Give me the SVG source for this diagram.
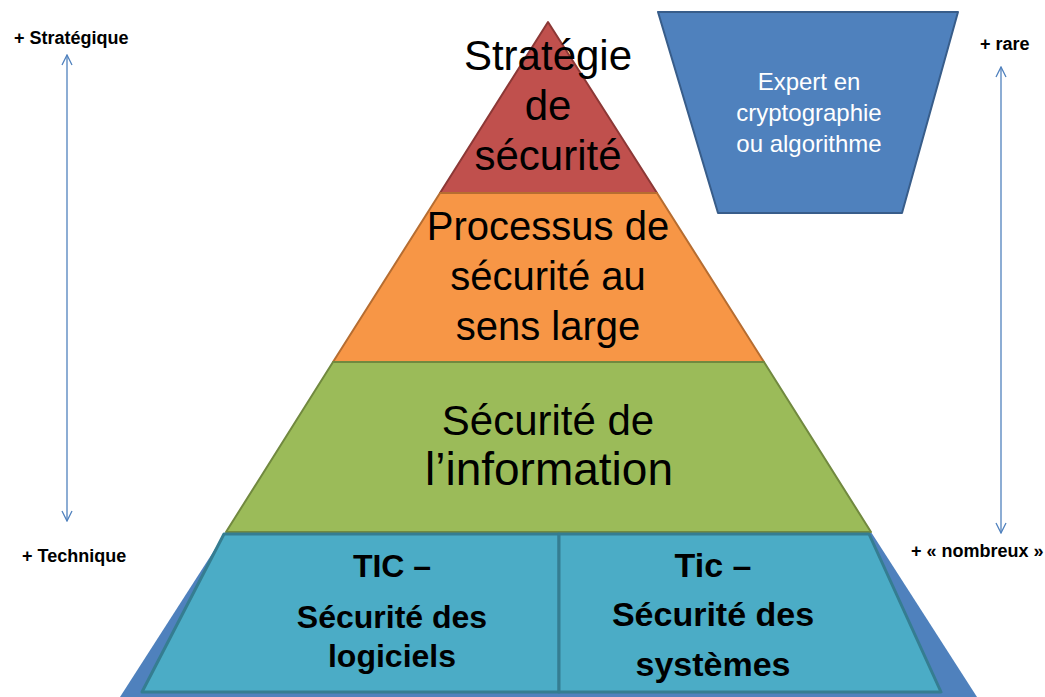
<svg xmlns="http://www.w3.org/2000/svg" width="1045" height="697" viewBox="0 0 1045 697">
<style>
  .big { font-family: "Liberation Sans", Arial, sans-serif; fill: #000; text-anchor: middle; }
  .b42 { font-size: 42px; }
  .b40 { font-size: 40px; }
  .b46 { font-size: 46px; }
  .bold { font-family: "Liberation Sans", Arial, sans-serif; font-weight: bold; fill: #000; text-anchor: middle; }
  .side { font-family: "Liberation Sans", Arial, sans-serif; font-weight: bold; font-size: 18px; fill: #000; }
  .wt { font-family: "Liberation Sans", Arial, sans-serif; font-size: 24px; fill: #fff; text-anchor: middle; }
  .conn { stroke: #4F81BD; stroke-width: 1.3; fill: none; }
</style>
<defs>
  <marker id="open" viewBox="0 0 12 12" refX="11" refY="6" markerWidth="12" markerHeight="12" markerUnits="userSpaceOnUse" orient="auto-start-reverse">
    <path d="M1,1 L11,6 L1,11" fill="none" stroke="#4F81BD" stroke-width="1.3"/>
  </marker>
</defs>
<rect width="1045" height="697" fill="#fff"/>

<g id="base">
  <polygon points="226,532 871,532 977,697 120,697" fill="#4F81BD"/>
</g>

<g id="strategie">
  <polygon points="548,22 657,193 440,193" fill="#C0504D" stroke="#8C3836" stroke-width="2" stroke-linejoin="round"/>
  <text class="big b42" x="548" y="70">Stratégie</text>
  <text class="big b42" x="548" y="120">de</text>
  <text class="big b42" x="548" y="170">sécurité</text>
</g>

<g id="processus">
  <polygon points="440,193 657,193 764,362 333,362" fill="#F79646" stroke="#B66D31" stroke-width="2" stroke-linejoin="round"/>
  <text class="big b40" x="548" y="240">Processus de</text>
  <text class="big b40" x="548" y="290">sécurité au</text>
  <text class="big b40" x="548" y="340">sens large</text>
</g>

<g id="information">
  <polygon points="333,362 764,362 871,532 226,532" fill="#9BBB59" stroke="#71893F" stroke-width="2" stroke-linejoin="round"/>
  <text class="big b42" x="548" y="435">Sécurité de</text>
  <text class="big b46" x="549" y="485">l’information</text>
</g>

<g id="tic-logiciels">
  <polygon points="224,534 559,534 559,692 142,692" fill="#4BACC6" stroke="#357D91" stroke-width="3" stroke-linejoin="round"/>
  <text class="bold" font-size="32" x="392" y="577">TIC –</text>
  <text class="bold" font-size="32" x="392" y="628">Sécurité des</text>
  <text class="bold" font-size="32" x="392" y="667">logiciels</text>
</g>

<g id="tic-systemes">
  <polygon points="559,534 869,534 941,692 559,692" fill="#4BACC6" stroke="#357D91" stroke-width="3" stroke-linejoin="round"/>
  <text class="bold" font-size="34" x="713" y="577">Tic –</text>
  <text class="bold" font-size="34" x="713" y="626">Sécurité des</text>
  <text class="bold" font-size="34" x="713" y="676">systèmes</text>
</g>

<g id="expert">
  <polygon points="658,12 958,12 902,213 718,213" fill="#4F81BD" stroke="#385D8A" stroke-width="2" stroke-linejoin="round"/>
  <text class="wt" x="809" y="90">Expert en</text>
  <text class="wt" x="809" y="121">cryptographie</text>
  <text class="wt" x="809" y="152">ou algorithme</text>
</g>

<g id="labels">
  <text class="side" x="14" y="44">+ Stratégique</text>
  <text class="side" x="22" y="562">+ Technique</text>
  <text class="side" x="980" y="50">+ rare</text>
  <text class="side" x="911" y="557">+ « nombreux »</text>
</g>

<g id="connectors">
  <line class="conn" x1="67" y1="55" x2="67" y2="521" marker-start="url(#open)" marker-end="url(#open)"/>
  <line class="conn" x1="1001" y1="67" x2="1001" y2="533" marker-start="url(#open)" marker-end="url(#open)"/>
</g>
</svg>
